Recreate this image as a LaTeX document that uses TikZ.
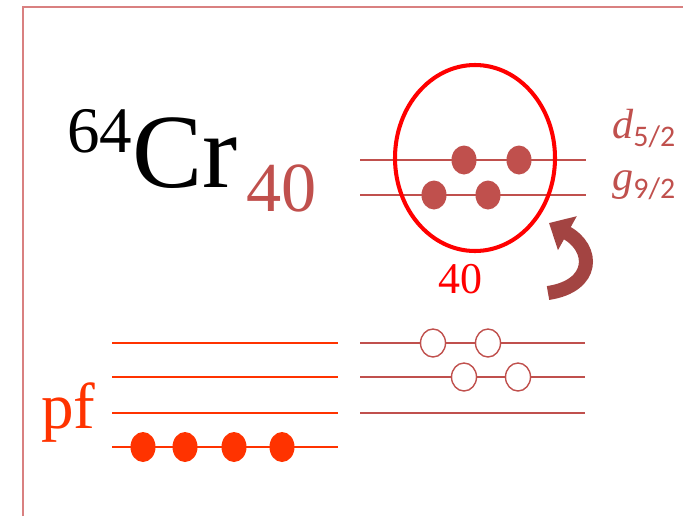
\documentclass[tikz,border=0pt]{standalone}
\usepackage{fontspec}
\setmainfont{Liberation Serif}
\newfontfamily\calfont{Carlito}
\usetikzlibrary{shapes.geometric,arrows.meta}
\definecolor{levred}{HTML}{C0504D}
\definecolor{pfred}{HTML}{FF3300}
\definecolor{framered}{HTML}{D98080}
\newcommand{\fsz}[1]{\fontsize{#1}{#1}\selectfont}
\begin{document}
\begin{tikzpicture}[
  lvl/.style={levred, line width=0.9pt},
  pflvl/.style={pfred, line width=1.1pt},
  fdot/.style={ellipse, fill=levred, inner sep=0pt, minimum width=0.5cm, minimum height=0.58cm},
  hdot/.style={ellipse, draw=levred, fill=white, line width=0.8pt, inner sep=0pt, minimum width=0.5cm, minimum height=0.56cm},
  pdot/.style={ellipse, fill=pfred, inner sep=0pt, minimum width=0.5cm, minimum height=0.6cm}]
  \useasboundingbox (0,0) rectangle (13.66,10.32);
  \draw[framered, line width=1.3pt] (0.46,0) |- (13.66,10.18);
  % nucleus label
  \node[anchor=base west, inner sep=0pt] (nuc) at (1.34,6.58)
    {\raisebox{19.4pt}{\fsz{37}64}\fsz{60}Cr\kern5pt\raisebox{-14pt}{\color{levred}\fsz{40}40}};
  % upper shells
  \draw[lvl] (7.2,7.12) -- (11.72,7.12);
  \draw[lvl] (7.2,6.42) -- (11.72,6.42);
  \node[fdot] (d1) at (9.28,7.12) {};
  \node[fdot] (d2) at (10.38,7.12) {};
  \node[fdot] (g1) at (8.68,6.42) {};
  \node[fdot] (g2) at (9.76,6.42) {};
  \node[ellipse, draw=red, line width=2.3pt, minimum width=3.2cm, minimum height=3.72cm] (shell) at (9.5,7.16) {};
  \node[anchor=base, red, inner sep=0pt, font=\fsz{25}] (nn) at (9.2,4.46) {40};
  \node[anchor=base west, levred, inner sep=0pt, font=\fsz{24}\itshape] (dlab) at (12.24,7.56)
    {d\raisebox{-5pt}{\calfont\upshape\fsz{17}5/2}};
  \node[anchor=base west, levred, inner sep=0pt, font=\fsz{24}\itshape] (glab) at (12.24,6.52)
    {g\raisebox{-5pt}{\calfont\upshape\fsz{17}9/2}};
  % excitation arrow
  \coordinate (atail) at (10.96,4.46);
  \coordinate (ahead) at (10.98,5.86);
  \draw[levred!85!black, line width=8pt, -{Triangle[length=0.42cm, width=0.75cm]}]
    (atail) .. controls (11.9,4.6) and (11.9,5.35) .. (ahead);
  % lower shells
  \foreach \y in {3.46,2.78,2.06} {
    \draw[lvl] (7.2,\y) -- (11.7,\y);
  }
  \node[hdot] (h1) at (8.66,3.46) {};
  \node[hdot] (h2) at (9.76,3.46) {};
  \node[hdot] (h3) at (9.28,2.78) {};
  \node[hdot] (h4) at (10.36,2.78) {};
  % pf shells
  \foreach \y in {3.46,2.78,2.06,1.38} {
    \draw[pflvl] (2.24,\y) -- (6.76,\y);
  }
  \foreach \x [count=\i] in {2.86,3.7,4.68,5.64} {
    \node[pdot] (p\i) at (\x,1.38) {};
  }
  \node[anchor=base west, pfred, inner sep=0pt, font=\fsz{37}] (pf) at (0.82,1.76) {pf};
\end{tikzpicture}
\end{document}
